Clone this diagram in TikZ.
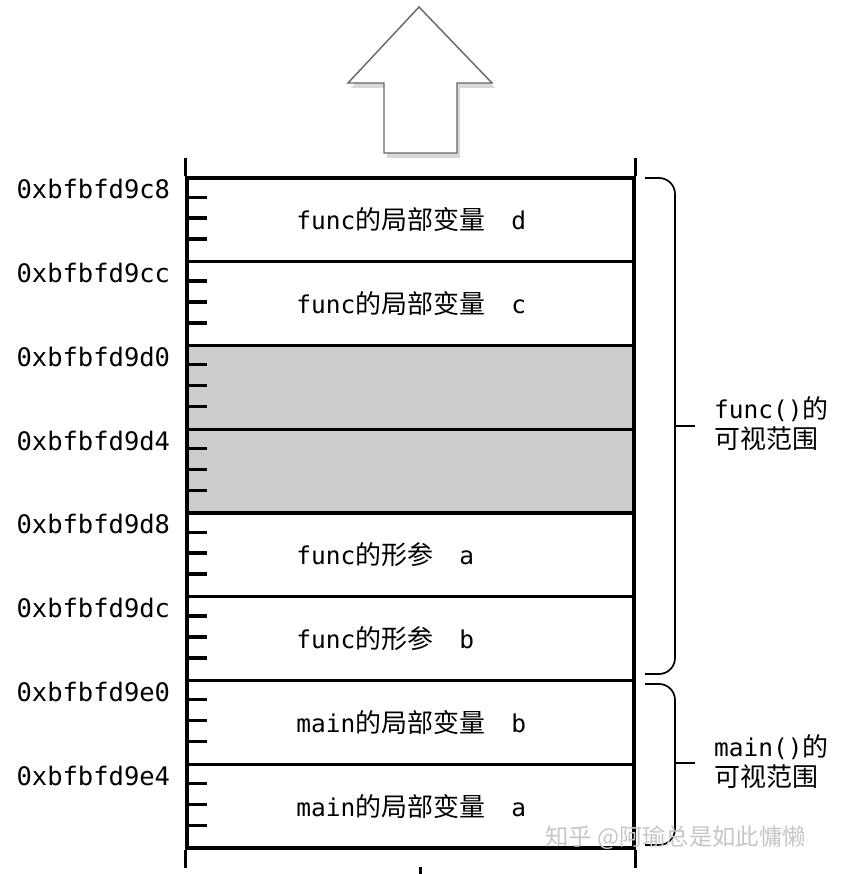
\documentclass[tikz,border=0pt]{standalone}
\usepackage{fontspec}
\setmainfont{DejaVu Sans Mono}
\newfontfamily\cjk[Scale=1.06]{Noto Sans CJK SC}
\newcommand{\zh}[1]{{\cjk #1}}
\usetikzlibrary{shadows}

\tikzset{
  slot/.style={draw, line width=1.2mm, minimum width=447pt, minimum height=83.75pt, inner sep=0pt},
  used/.style={slot, fill=gray!40},
  cell/.style={anchor=west, inner sep=0pt, font=\fontsize{24.5}{28}\selectfont},
  addr/.style={anchor=east, inner sep=0pt, font=\fontsize{25.5}{28}\selectfont},
  scopebr/.style={line width=0.6mm, rounded corners=16pt},
  scopetxt/.style={anchor=west, align=left, inner sep=0pt, font=\fontsize{24.5}{30}\selectfont},
  tick/.style={line width=1.2mm},
}

\begin{document}
\begin{tikzpicture}[x=1pt, y=-1pt]
	\useasboundingbox (0,0) rectangle (844,874);

	% stack growth arrow
	\draw[gray!80!black, line width=0.5mm, fill=white, drop shadow={opacity=0.3, shadow xshift=3pt, shadow yshift=-5pt}]
		(419,7) -- (492,83) -- (457,83) -- (457,153) -- (384,153) -- (384,83) -- (348,83) -- cycle;

	% memory slots
	\node[slot] (s0) at (410.5,219.875) {};
	\node[slot] (s1) at (410.5,303.625) {};
	\node[used] (s2) at (410.5,387.375) {};
	\node[used] (s3) at (410.5,471.125) {};
	\node[slot] (s4) at (410.5,554.875) {};
	\node[slot] (s5) at (410.5,638.625) {};
	\node[slot] (s6) at (410.5,722.375) {};
	\node[slot] (s7) at (410.5,806.125) {};

	\node[cell] (t0) at ([xshift=111pt]s0.west) {func\zh{的局部变量}\hspace{26pt}d};
	\node[cell] (t1) at ([xshift=111pt]s1.west) {func\zh{的局部变量}\hspace{26pt}c};
	\node[cell] (t4) at ([xshift=111pt]s4.west) {func\zh{的形参}\hspace{26pt}a};
	\node[cell] (t5) at ([xshift=111pt]s5.west) {func\zh{的形参}\hspace{26pt}b};
	\node[cell] (t6) at ([xshift=111pt]s6.west) {main\zh{的局部变量}\hspace{26pt}b};
	\node[cell] (t7) at ([xshift=111pt]s7.west) {main\zh{的局部变量}\hspace{26pt}a};

	\draw[tick] (s0.north west) -- ++(0,-18);
	\draw[tick] (s0.north east) -- ++(0,-18);
	\draw[tick] (s7.south west) -- ++(0,18);
	\draw[tick] (s7.south east) -- ++(0,18);

	\foreach \s in {0,...,7}
		\foreach \q in {1,2,3}
			\draw[tick] ([yshift=-\q*20.94pt]s\s.north west) -- ++(22,0);

	% addresses
	\node[addr] (a0) at ([xshift=-15pt,yshift=-13pt]s0.north west) {0xbfbfd9c8};
	\node[addr] (a1) at ([xshift=-15pt,yshift=-13pt]s1.north west) {0xbfbfd9cc};
	\node[addr] (a2) at ([xshift=-15pt,yshift=-13pt]s2.north west) {0xbfbfd9d0};
	\node[addr] (a3) at ([xshift=-15pt,yshift=-13pt]s3.north west) {0xbfbfd9d4};
	\node[addr] (a4) at ([xshift=-15pt,yshift=-13pt]s4.north west) {0xbfbfd9d8};
	\node[addr] (a5) at ([xshift=-15pt,yshift=-13pt]s5.north west) {0xbfbfd9dc};
	\node[addr] (a6) at ([xshift=-15pt,yshift=-13pt]s6.north west) {0xbfbfd9e0};
	\node[addr] (a7) at ([xshift=-15pt,yshift=-13pt]s7.north west) {0xbfbfd9e4};

	% visible ranges
	\draw[scopebr] (645,178) -- (675,178) -- (675,674) -- (645,674);
	\draw[scopebr] (675,426) -- (695,426);
	\node[scopetxt] (fvis) at (714,424) {func()\zh{的}\\\zh{可视范围}};

	\draw[scopebr] (645,684) -- (675,684) -- (675,845) -- (645,845);
	\draw[scopebr] (675,763) -- (695,763);
	\node[scopetxt] (mvis) at (714,762) {main()\zh{的}\\\zh{可视范围}};

	\fill (418.5,867) rectangle (421.5,874);

	\node[anchor=west, inner sep=0pt, text=gray!45, font=\cjk\fontsize{22}{24}\selectfont] (wm) at (545,838) {知乎 @阿瑜总是如此慵懒};
\end{tikzpicture}
\end{document}
